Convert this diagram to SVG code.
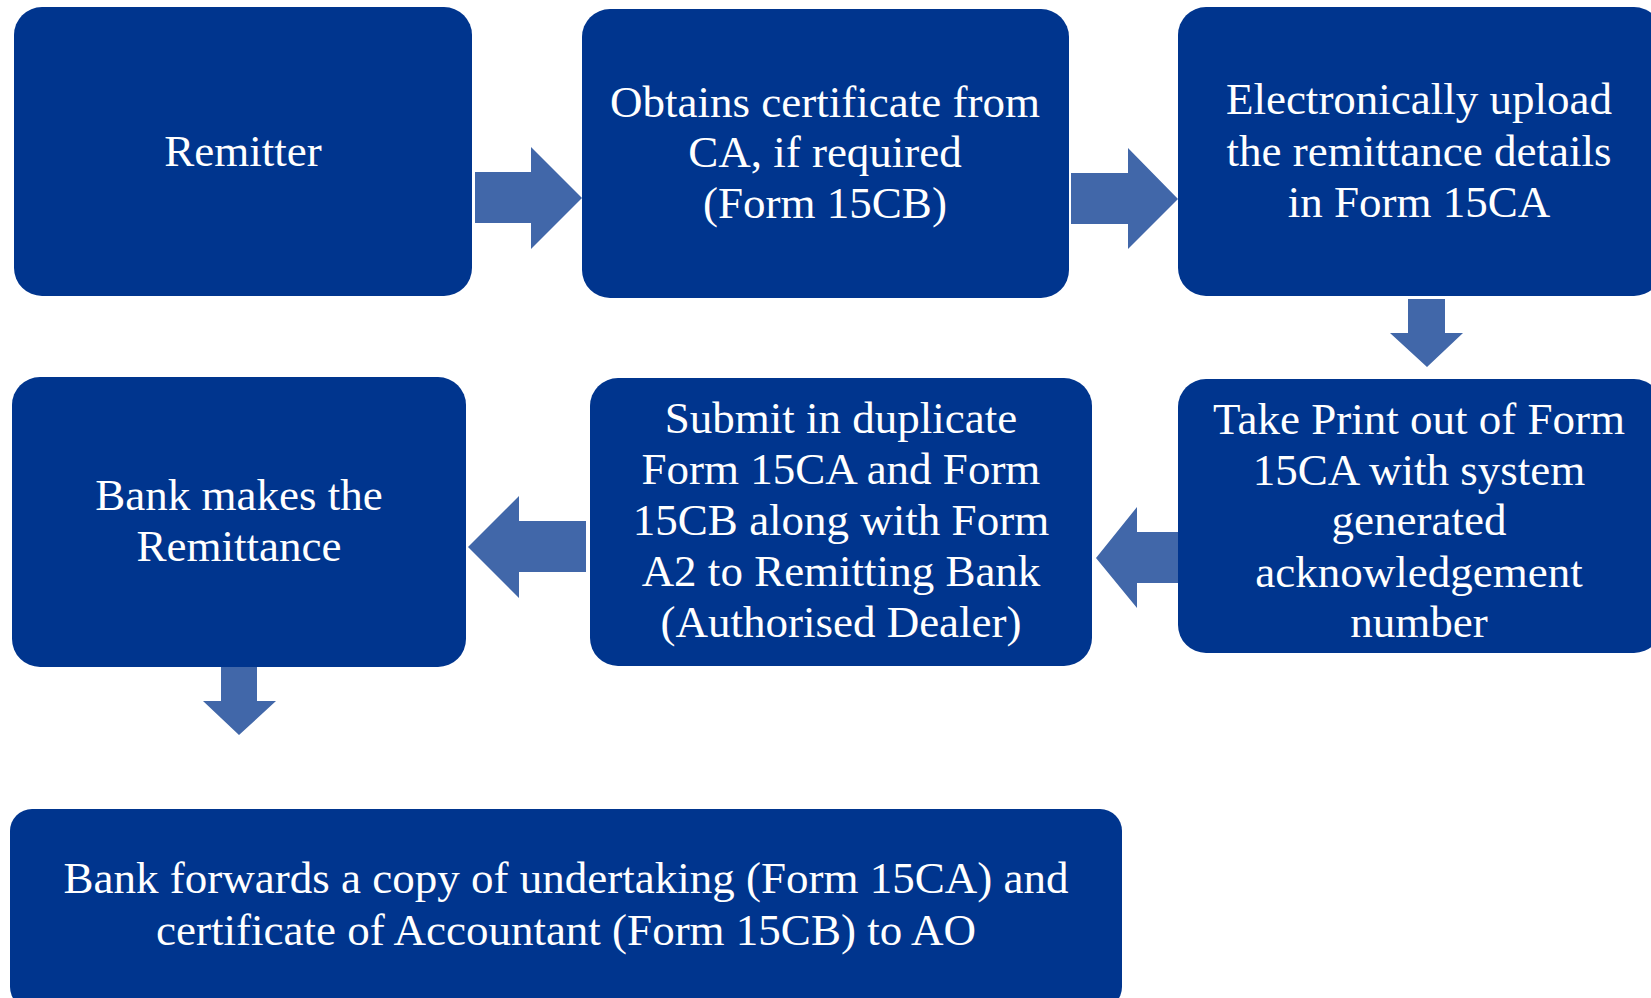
<svg xmlns="http://www.w3.org/2000/svg" width="1651" height="998" viewBox="0 0 1651 998">
<style>
.box{fill:#00358E;}
.arr{fill:#4167A9;}
text{font-family:"Liberation Serif","Times New Roman",serif;font-size:45px;fill:#FFFFFF;text-anchor:middle;}
</style>
<rect width="1651" height="998" fill="#FFFFFF"/>
<g id="connectors">
<polygon class="arr" points="475,172 531,172 531,147 582,198 531,249 531,223 475,223"/>
<polygon class="arr" points="1071,173 1128,173 1128,148 1178,199 1128,249 1128,224 1071,224"/>
<polygon class="arr" points="1408,299 1445,299 1445,333 1463,333 1427,367 1390,333 1408,333"/>
<polygon class="arr" points="1179,532 1137,532 1137,507 1096,558 1137,608 1137,583 1179,583"/>
<polygon class="arr" points="586,521 519,521 519,496 468,547 519,598 519,572 586,572"/>
<polygon class="arr" points="221,667 257,667 257,701 276,701 239,735 203,701 221,701"/>
</g>
<g id="n1">
<rect class="box" x="14" y="7" width="458" height="289" rx="28"/>
<text x="243" y="166">Remitter</text>
</g>
<g id="n2">
<rect class="box" x="582" y="9" width="487" height="289" rx="28"/>
<text x="825" y="117">Obtains certificate from</text>
<text x="825" y="167">CA, if required</text>
<text x="825" y="218">(Form 15CB)</text>
</g>
<g id="n3">
<rect class="box" x="1178" y="7" width="484" height="289" rx="28"/>
<text x="1419" y="114">Electronically upload</text>
<text x="1419" y="166">the remittance details</text>
<text x="1419" y="217">in Form 15CA</text>
</g>
<g id="n4">
<rect class="box" x="1178" y="379" width="484" height="274" rx="28"/>
<text x="1419" y="434">Take Print out of Form</text>
<text x="1419" y="485">15CA with system</text>
<text x="1419" y="535">generated</text>
<text x="1419" y="587">acknowledgement</text>
<text x="1419" y="637">number</text>
</g>
<g id="n5">
<rect class="box" x="590" y="378" width="502" height="288" rx="28"/>
<text x="841" y="433">Submit in duplicate</text>
<text x="841" y="484">Form 15CA and Form</text>
<text x="841" y="535">15CB along with Form</text>
<text x="841" y="586">A2 to Remitting Bank</text>
<text x="841" y="637">(Authorised Dealer)</text>
</g>
<g id="n6">
<rect class="box" x="12" y="377" width="454" height="290" rx="28"/>
<text x="239" y="510">Bank makes the</text>
<text x="239" y="561">Remittance</text>
</g>
<g id="n7">
<rect class="box" x="10" y="809" width="1112" height="200" rx="22"/>
<text x="566" y="893">Bank forwards a copy of undertaking (Form 15CA) and</text>
<text x="566" y="945">certificate of Accountant (Form 15CB) to AO</text>
</g>
</svg>
